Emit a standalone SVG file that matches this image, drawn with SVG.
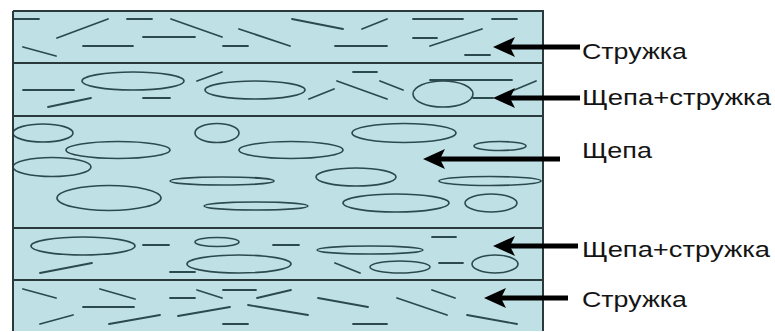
<svg xmlns="http://www.w3.org/2000/svg" width="775" height="332" viewBox="0 0 775 332">
<defs>
<style>
.bg{fill:#bfe1e5;stroke:none}
.sep{stroke:#2a3a3c;stroke-width:2;fill:none}
.s{stroke:#2c4a4e;stroke-width:1.8;fill:none;stroke-linecap:round}
.e{stroke:#2c4a4e;stroke-width:1.6;fill:none}
.lbl{font-family:"Liberation Sans",Arial,sans-serif;font-size:22px;fill:#141414}
.arr{stroke:#000;stroke-width:5;fill:none}
</style>
<marker id="ah" markerUnits="userSpaceOnUse" markerWidth="24" markerHeight="22" refX="12" refY="11" orient="auto">
<path d="M0,1 L22,11 L0,21 L5,11 Z" fill="#000"/>
</marker>
</defs>
<rect width="775" height="332" fill="#fff"/>
<g id="board">
<rect class="bg" x="13" y="11" width="530" height="320"/>
</g>
<g id="layer1">
<path class="s" d="M14,19H39 M57,38L108,19 M127,19H152 M171,19L222,37 M239,29L290,46 M143,37H195 M23,47L56,56 M83,46H133 M223,46H248 M292,19L343,29 M362,29L387,19 M335,46H387 M413,19H463 M492,19H517 M413,38H437 M430,46L482,29 M465,55H490"/>
</g>
<g id="layer2">
<path class="s" d="M23,90H74 M197,81L222,72 M48,107L91,98 M143,98H170 M309,99L334,89 M337,81L387,99 M353,72H377 M380,81L403,90 M430,80H512 M473,98H493 M512,91L536,81"/>
<ellipse class="e" cx="133" cy="81" rx="51" ry="9"/>
<ellipse class="e" cx="255" cy="90" rx="50" ry="9"/>
<ellipse class="e" cx="443" cy="94" rx="30" ry="13"/>
</g>
<g id="layer3">
<ellipse class="e" cx="43" cy="133" rx="30" ry="9"/>
<ellipse class="e" cx="118" cy="150" rx="52" ry="8.5"/>
<ellipse class="e" cx="52" cy="167" rx="39" ry="9.5"/>
<ellipse class="e" cx="109" cy="198" rx="52" ry="12.5"/>
<ellipse class="e" cx="217" cy="133" rx="22" ry="9.5"/>
<ellipse class="e" cx="291" cy="150" rx="52" ry="8.5"/>
<ellipse class="e" cx="222" cy="181" rx="52" ry="4"/>
<ellipse class="e" cx="256" cy="206" rx="52" ry="4"/>
<ellipse class="e" cx="404" cy="133" rx="52" ry="9.5"/>
<ellipse class="e" cx="500" cy="146" rx="26" ry="4.5"/>
<ellipse class="e" cx="356" cy="177" rx="40" ry="9"/>
<ellipse class="e" cx="490" cy="181" rx="51" ry="4.5"/>
<ellipse class="e" cx="396" cy="203" rx="53" ry="9"/>
<ellipse class="e" cx="491" cy="203" rx="26" ry="9"/>
</g>
<g id="layer4">
<path class="s" d="M143,245H169 M40,273L92,263 M170,272H195 M273,245H299 M432,237H456 M335,263L360,273 M439,263H463"/>
<ellipse class="e" cx="83" cy="246" rx="52" ry="9"/>
<ellipse class="e" cx="217" cy="242" rx="22" ry="4.5"/>
<ellipse class="e" cx="239" cy="264" rx="52" ry="9"/>
<ellipse class="e" cx="370" cy="250" rx="53" ry="4"/>
<ellipse class="e" cx="400" cy="267" rx="30" ry="6"/>
<ellipse class="e" cx="495" cy="264" rx="23" ry="9"/>
</g>
<g id="layer5">
<path class="s" d="M23,289L56,298 M100,289L135,299 M83,307H134 M40,324L73,315 M109,324L160,315 M170,298H195 M197,290L222,298 M223,290H256 M178,316L230,307 M223,324H248 M257,298L291,290 M248,305L308,315 M318,298L368,307 M397,298L447,315 M432,290L455,298 M353,324H387 M467,315L517,324"/>
</g>
<g id="frame">
<path class="sep" d="M13,11H543V331 M13,11V331 M13,63H543 M13,116H543 M13,228H543 M13,280H543"/>
</g>
<g id="connectors">
<path class="arr" marker-end="url(#ah)" d="M580,47H503"/>
<path class="arr" marker-end="url(#ah)" d="M580,98H503"/>
<path class="arr" marker-end="url(#ah)" d="M560,159H433"/>
<path class="arr" marker-end="url(#ah)" d="M578,246H503"/>
<path class="arr" marker-end="url(#ah)" d="M568,298H494"/>
</g>
<g id="label-strugka-top"><text class="lbl" x="582" y="59" textLength="105" lengthAdjust="spacingAndGlyphs">Стружка</text></g>
<g id="label-mix-top"><text class="lbl" x="582" y="105" textLength="189" lengthAdjust="spacingAndGlyphs">Щепа+стружка</text></g>
<g id="label-shchepa"><text class="lbl" x="582" y="158" textLength="70" lengthAdjust="spacingAndGlyphs">Щепа</text></g>
<g id="label-mix-bottom"><text class="lbl" x="582" y="257" textLength="188" lengthAdjust="spacingAndGlyphs">Щепа+стружка</text></g>
<g id="label-strugka-bottom"><text class="lbl" x="582" y="307" textLength="105" lengthAdjust="spacingAndGlyphs">Стружка</text></g>
</svg>
